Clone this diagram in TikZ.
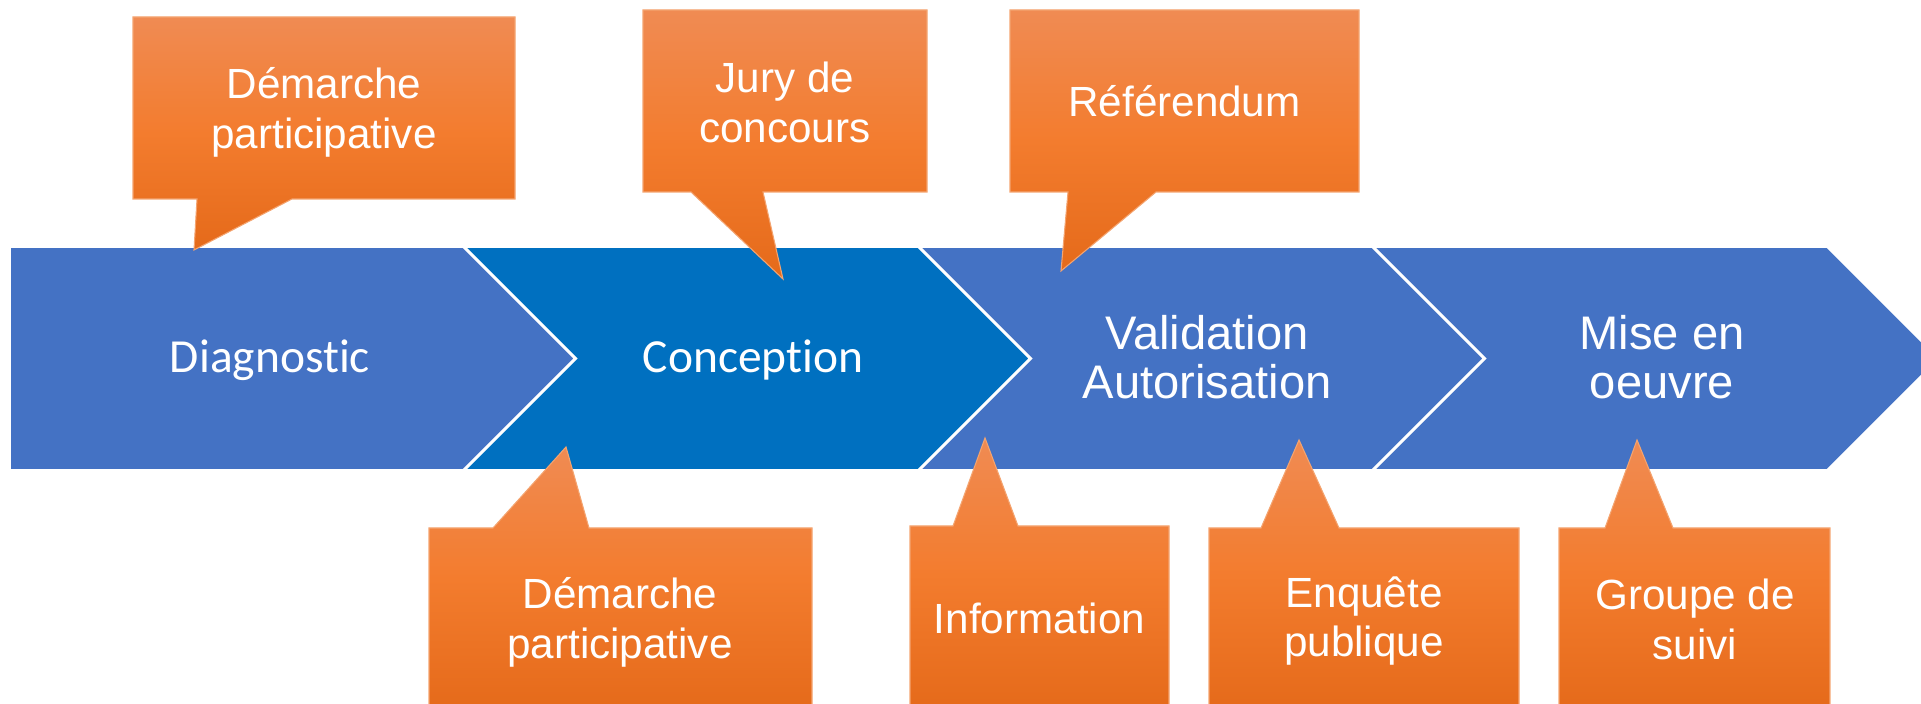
\documentclass[tikz,border=0pt]{standalone}
\usepackage{fontspec}
\setmainfont{Liberation Sans}
\newfontfamily\carlito[Ligatures=NoCommon]{Carlito}

\definecolor{stepblue}{HTML}{4472C4}
\definecolor{stepdark}{HTML}{0070C0}
\definecolor{calltop}{HTML}{F08B53}
\definecolor{callmid}{HTML}{F37C2E}
\definecolor{callbot}{HTML}{E56A1A}
\definecolor{calledge}{HTML}{F4A470}

\begin{document}
\begin{tikzpicture}[x=0.01cm, y=-0.01cm]
    % Define styles
    \tikzset{
        chevron/.style={draw=white, line width=0.45pt, line join=miter},
        bubble/.style={draw=calledge, line width=0.3pt, top color=calltop, bottom color=callbot, middle color=callmid},
        phase/.style={text=white, align=center, inner sep=0pt, font=\fontsize{13.4}{13.9}\selectfont},
        phasecal/.style={phase, font=\carlito\fontsize{13.5}{15}\selectfont},
        bubbletext/.style={text=white, align=center, inner sep=0pt, font=\fontsize{12}{14.2}\selectfont}
    }

    \useasboundingbox (0,0) rectangle (1921,704);
    \clip (0,0) rectangle (1921,704);

    % Chevrons
    \path[chevron, fill=stepblue] (10,247) -- (463,247) -- (574.5,358.5) -- (463,470) -- (10,470) -- cycle;
    \path[chevron, fill=stepdark] (465,247) -- (918,247) -- (1029.5,358.5) -- (918,470) -- (465,470) -- (576.5,358.5) -- cycle;
    \path[chevron, fill=stepblue] (920,247) -- (1372,247) -- (1483.5,358.5) -- (1372,470) -- (920,470) -- (1031.5,358.5) -- cycle;
    \path[chevron, fill=stepblue] (1374,247) -- (1827,247) -- (1938.5,358.5) -- (1827,470) -- (1374,470) -- (1485.5,358.5) -- cycle;

    \node[phasecal] (diag) at (270,360) {Diagnostic};
    \node[phasecal] (concep) at (753,360) {Conception};
    \node[phase] (valid) at (1207,357) {Validation\\Autorisation};
    \node[phase] (mise) at (1662,357) {Mise en\\oeuvre};

    % Callouts above
    \path[bubble] (133,17) -- (515,17) -- (515,199) -- (292,199) -- (194,250) -- (197,199) -- (133,199) -- cycle;
    \path[bubble] (643,10) -- (927,10) -- (927,192) -- (763,192) -- (783,279) -- (691,192) -- (643,192) -- cycle;
    \path[bubble] (1010,10) -- (1359,10) -- (1359,192) -- (1156,192) -- (1061,271) -- (1068,192) -- (1010,192) -- cycle;

    \node[bubbletext] (dem1) at (324,112) {Démarche\\participative};
    \node[bubbletext] (jury) at (785,102) {Jury de\\concours};
    \node[bubbletext] (refer) at (1184.5,101) {Référendum};

    % Callouts below
    \path[bubble] (429,528) -- (493,528) -- (566,447) -- (589,528) -- (812,528) -- (812,710) -- (429,710) -- cycle;
    \path[bubble] (910,526) -- (953,526) -- (985,438) -- (1018,526) -- (1169,526) -- (1169,710) -- (910,710) -- cycle;
    \path[bubble] (1209,528) -- (1261,528) -- (1299,440) -- (1339,528) -- (1519,528) -- (1519,710) -- (1209,710) -- cycle;
    \path[bubble] (1559,528) -- (1605,528) -- (1637,440) -- (1673,528) -- (1830,528) -- (1830,710) -- (1559,710) -- cycle;

    \node[bubbletext] (dem2) at (620,622) {Démarche\\participative};
    \node[bubbletext] (info) at (1039.5,618) {Information};
    \node[bubbletext] (enq) at (1364,621) {Enquête\\publique};
    \node[bubbletext] (suivi) at (1695,619) {Groupe de\\suivi};
\end{tikzpicture}
\end{document}
